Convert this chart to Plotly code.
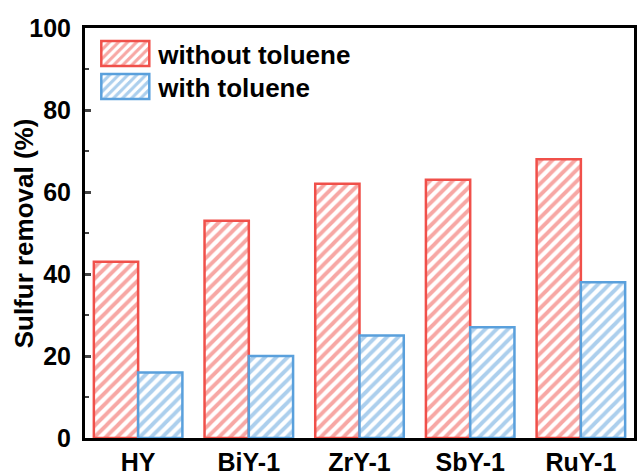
import plotly.graph_objects as go

categories = ["HY", "BiY-1", "ZrY-1", "SbY-1", "RuY-1"]
without_toluene = [43, 53, 62, 63, 68]
with_toluene = [16, 20, 25, 27, 38]

RED = "#F0504A"
BLUE = "#5AA0DC"
FONT = "Liberation Sans, Arial, sans-serif"

fig = go.Figure()
fig.add_bar(
    x=categories, y=without_toluene, name="without toluene",
    marker=dict(color="white", line=dict(color=RED, width=2.5),
                pattern=dict(shape="/", fgcolor=RED, bgcolor="white", size=8, solidity=0.48)),
)
fig.add_bar(
    x=categories, y=with_toluene, name="with toluene",
    marker=dict(color="white", line=dict(color=BLUE, width=2.5),
                pattern=dict(shape="/", fgcolor=BLUE, bgcolor="white", size=8, solidity=0.48)),
)

fig.update_layout(
    width=637, height=476,
    margin=dict(l=85, r=0, t=28, b=36),
    barmode="group", bargap=0.2, bargroupgap=0,
    plot_bgcolor="white", paper_bgcolor="white",
    font=dict(family=FONT, color="black"),
    legend=dict(x=0.006, y=0.995, xanchor="left", yanchor="top",
                font=dict(size=26, family=FONT, weight="bold"),
                bgcolor="rgba(0,0,0,0)", tracegroupgap=0, itemwidth=60),
    showlegend=True,
    annotations=[dict(
        text="Sulfur removal (%)", textangle=-90, showarrow=False,
        xref="paper", yref="paper", x=-0.1105, y=0.5, xanchor="center", yanchor="middle",
        font=dict(size=26, family=FONT, weight="bold", color="black"),
    )],
)
fig.update_xaxes(
    range=[-0.48, 4.48], showline=True, linecolor="black", linewidth=3, mirror=True,
    ticks="", tickfont=dict(size=25, family=FONT, weight="bold"), showgrid=False,
)
fig.update_yaxes(
    range=[0, 100], tickvals=[0, 20, 40, 60, 80, 100], showline=True, linecolor="black",
    linewidth=3, mirror=True, ticks="inside", ticklen=6, tickwidth=2.5,
    minor=dict(tickvals=[10, 30, 50, 70, 90], ticks="inside", ticklen=3.5, tickwidth=2),
    tickfont=dict(size=25, family=FONT, weight="bold"), showgrid=False, zeroline=False,
    ticklabelstandoff=6,
)

post = """
var gd = document.getElementById('{plot_id}');
var items = gd.querySelectorAll('g.legend g.traces');
var y0 = null;
items.forEach(function(it, i){
  var txt = it.querySelector('text.legendtext');
  var tx = parseFloat(txt.getAttribute('x'));
  it.querySelectorAll('g.legendpoints path').forEach(function(p){
    p.setAttribute('d', 'M-24,-12.5H24V12.5H-24Z');
    p.setAttribute('transform', 'translate(' + (tx - 9 - 24) + ',0)');
  });
  var tr = it.getAttribute('transform') || '';
  var m = tr.match(/translate\\(\\s*([-\\d.eE]+)[ ,]+([-\\d.eE]+)/);
  if (m) {
    var x = parseFloat(m[1]), y = parseFloat(m[2]);
    if (y0 === null) y0 = y;
    it.setAttribute('transform', 'translate(' + x + ',' + (y0 + i * 33) + ')');
  }
});
"""

fig.write_html("out.html", post_script=post)
